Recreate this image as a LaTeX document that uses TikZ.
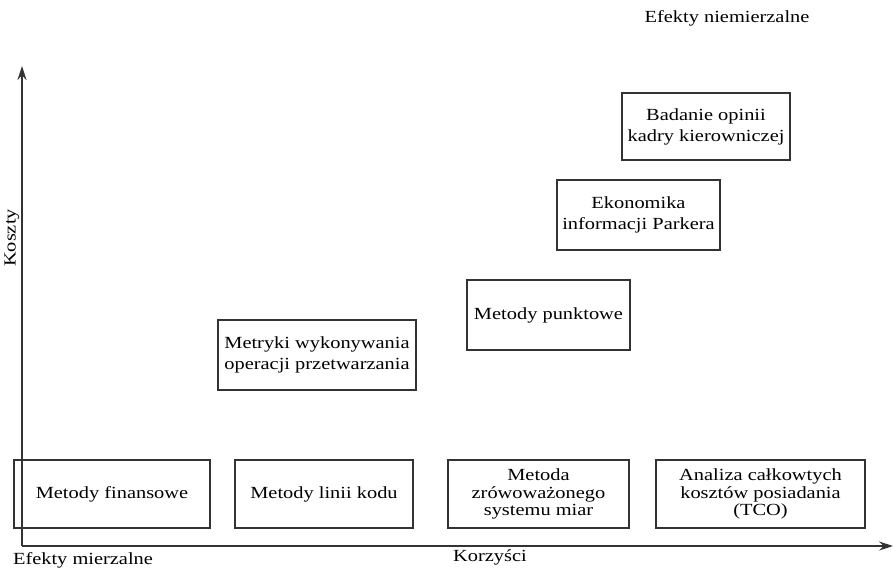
\documentclass[tikz,border=0pt]{standalone}
\usepackage{fontspec}
\setmainfont{Liberation Serif}[FakeStretch=1.2]
\usetikzlibrary{arrows.meta}
\begin{document}
\begin{tikzpicture}[x=1pt,y=-1pt,
  box/.style={draw=black!80,line width=1.1pt,align=center,inner sep=0pt,font=\fontsize{17}{21}\selectfont},
  tight/.style={font=\fontsize{17}{17.5}\selectfont},
  lbl/.style={font=\fontsize{17}{20}\selectfont,inner sep=0pt},
  axis/.style={draw=black!80,line width=1.1pt,-{Stealth[length=14pt,width=9pt]}}]
\useasboundingbox (0,0) rectangle (893,570);
\coordinate (O) at (22,546);
\coordinate (Ytop) at (22,66);
\coordinate (Xend) at (893,546);
\draw[axis] (O) -- (Ytop);
\draw[axis] (O) -- (Xend);
\node[box,minimum width=196pt,minimum height=68pt] (fin) at (112,494) {Metody finansowe};
\node[box,minimum width=178pt,minimum height=68pt] (kod) at (324,494) {Metody linii kodu};
\node[box,tight,minimum width=181pt,minimum height=68pt] (zrow) at (538.5,494) {Metoda\\zrówoważonego\\systemu miar};
\node[box,tight,minimum width=209pt,minimum height=68pt] (tco) at (760.5,494) {Analiza całkowtych\\kosztów posiadania\\(TCO)};
\node[box,minimum width=198pt,minimum height=70pt] (metr) at (317,355) {Metryki wykonywania\\operacji przetwarzania};
\node[box,minimum width=163pt,minimum height=70pt] (pkt) at (548.5,315) {Metody punktowe};
\node[box,minimum width=163pt,minimum height=70pt] (ekon) at (638.5,215) {Ekonomika\\informacji Parkera};
\node[box,minimum width=168pt,minimum height=67pt] (bad) at (706,126.5) {Badanie opinii\\kadry kierowniczej};
\node[lbl] (niem) at (727,18) {Efekty niemierzalne};
\node[lbl] (mierz) at (83,560) {Efekty mierzalne};
\node[lbl] (korz) at (490,557) {Korzyści};
\node[lbl,rotate=90] (koszty) at (12,238) {Koszty};
\end{tikzpicture}
\end{document}
